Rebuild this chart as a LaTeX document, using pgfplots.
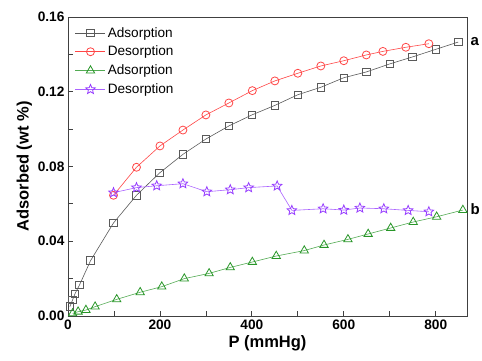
\documentclass[border=0pt]{standalone}
\usepackage{fontspec}
\setmainfont{Liberation Sans}
\usepackage{pgfplots}
\pgfplotsset{compat=1.18}
\definecolor{cgray}{RGB}{90,90,90}
\definecolor{cred}{RGB}{255,70,70}
\definecolor{cgreen}{RGB}{40,150,40}
\definecolor{cpurple}{RGB}{150,60,255}
\pgfdeclareplotmark{ostar}{%
 \pgfpathmoveto{\pgfpointpolar{90}{\pgfplotmarksize}}%
 \pgfpathlineto{\pgfpointpolar{126}{0.45\pgfplotmarksize}}%
 \pgfpathlineto{\pgfpointpolar{162}{\pgfplotmarksize}}%
 \pgfpathlineto{\pgfpointpolar{198}{0.45\pgfplotmarksize}}%
 \pgfpathlineto{\pgfpointpolar{234}{\pgfplotmarksize}}%
 \pgfpathlineto{\pgfpointpolar{270}{0.45\pgfplotmarksize}}%
 \pgfpathlineto{\pgfpointpolar{306}{\pgfplotmarksize}}%
 \pgfpathlineto{\pgfpointpolar{342}{0.45\pgfplotmarksize}}%
 \pgfpathlineto{\pgfpointpolar{18}{\pgfplotmarksize}}%
 \pgfpathlineto{\pgfpointpolar{54}{0.45\pgfplotmarksize}}%
 \pgfpathclose\pgfusepathqstroke}
\begin{document}
\begin{tikzpicture}
\begin{axis}[
  at={(0,0)}, anchor=south west,
  scale only axis, width=399pt, height=299pt,
  xmin=0, xmax=868, ymin=0, ymax=0.16,
  xtick={0,200,400,600,800}, minor x tick num=1,
  ytick={0,0.04,0.08,0.12,0.16}, minor y tick num=1,
  xtick pos=bottom, ytick pos=left, tick align=inside,
  major tick length=5pt, minor tick length=5pt,
  axis line style={draw=black!75, line width=0.9pt},
  every tick/.style={draw=black!75, line width=0.8pt},
  /pgf/number format/assume math mode=true,
  yticklabel style={/pgf/number format/fixed, /pgf/number format/fixed zerofill, /pgf/number format/precision=2, font=\fontsize{13.7}{16}\selectfont\bfseries},
  xticklabel style={font=\fontsize{13.7}{16}\selectfont\bfseries},
  scaled y ticks=false,
  xlabel={P (mmHg)}, ylabel={Adsorbed (wt \%)},
  xlabel style={font=\fontsize{16.5}{18}\selectfont\bfseries, yshift=1pt},
  ylabel style={font=\fontsize{16.5}{18}\selectfont\bfseries, yshift=-1pt},
  legend style={draw=none, fill=none, at={(0.0,1)}, anchor=north west, font=\fontsize{13.6}{15}\selectfont, row sep=3.5pt, inner sep=2pt, xshift=5pt, yshift=-6pt},
  legend cell align=left,
  legend image code/.code={\draw[mark repeat=2,mark phase=2] plot coordinates {(0pt,0pt)(15pt,0pt)(30pt,0pt)};},
  clip=false,
]
\addplot[cgray, line width=0.6pt, mark=square, mark size=3.8pt, mark options={solid, line width=0.8pt}] coordinates {
(4,0.005) (10,0.0086) (15,0.0118) (25,0.0166) (49,0.0296) (99,0.0498) (149,0.0646) (199,0.0765) (250,0.0865) (300,0.0947) (350,0.1017) (400,0.1076) (450,0.1127) (500,0.1184) (550,0.1224) (600,0.1275) (649,0.1306) (700,0.1349) (749,0.1386) (800,0.1427) (849,0.1466)
};
\addlegendentry{Adsorption}
\addplot[cred, line width=0.6pt, mark=o, mark size=4pt, mark options={solid, line width=0.8pt}] coordinates {
(99,0.0646) (149,0.0796) (200,0.091) (250,0.0995) (300,0.1076) (350,0.114) (401,0.1206) (450,0.1258) (500,0.1299) (550,0.1338) (600,0.1366) (649,0.1397) (685,0.1416) (735,0.1438) (785,0.1457)
};
\addlegendentry{Desorption}
\addplot[cgreen!80, line width=0.6pt, mark=triangle, mark size=4.8pt, mark options={solid, line width=0.8pt, draw=cgreen}] coordinates {
(10,0.0014) (22,0.0023) (39,0.0032) (59,0.005) (106,0.0089) (157,0.0127) (204,0.0157) (253,0.02) (307,0.0228) (353,0.026) (401,0.0289) (453,0.0321) (514,0.035) (557,0.038) (609,0.041) (653,0.0439) (702,0.0471) (751,0.0503) (802,0.0531) (859,0.0567)
};
\addlegendentry{Adsorption}
\addplot[cpurple!80, line width=0.6pt, mark=ostar, mark size=5pt, mark options={solid, line width=0.8pt, draw=cpurple}] coordinates {
(99,0.066) (149,0.0687) (193,0.0697) (250,0.0708) (302,0.0665) (353,0.0676) (393,0.0687) (455,0.0696) (487,0.0565) (555,0.0574) (600,0.0567) (635,0.0578) (687,0.0574) (740,0.0565) (785,0.0558)
};
\addlegendentry{Desorption}
\node[anchor=west, font=\fontsize{15}{17}\selectfont\bfseries] at (axis cs:868,0.147) {a};
\node[anchor=west, font=\fontsize{15}{17}\selectfont\bfseries] at (axis cs:868,0.057) {b};
\end{axis}
\pgfresetboundingbox
\path (-68pt,-44pt) rectangle (414pt,316pt);
\end{tikzpicture}
\end{document}
